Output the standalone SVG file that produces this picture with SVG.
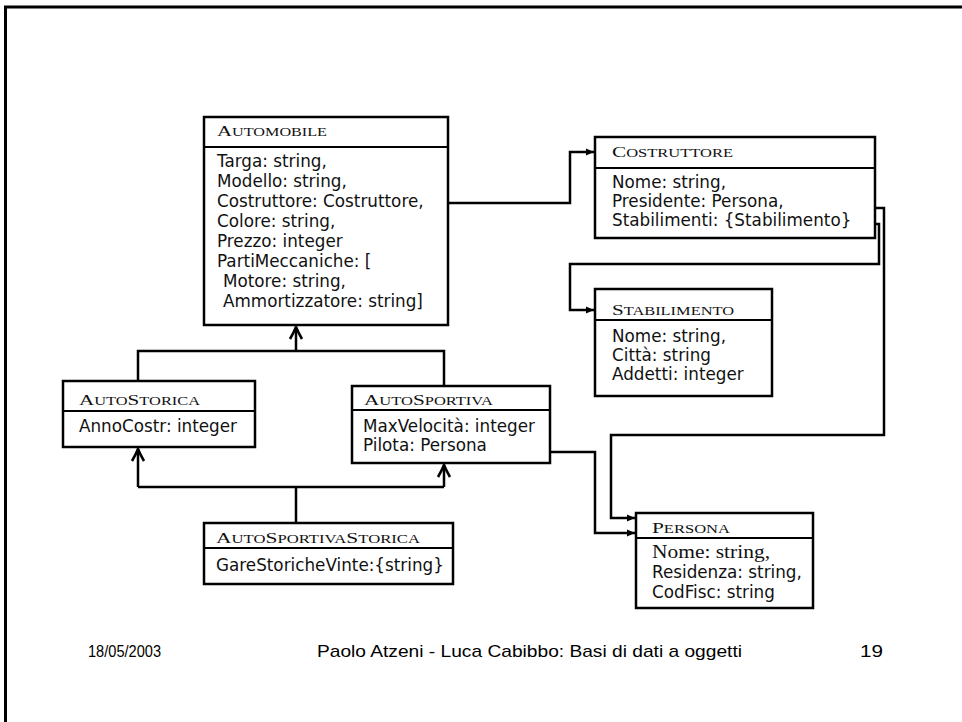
<svg xmlns="http://www.w3.org/2000/svg" width="962" height="722" viewBox="0 0 962 722">
<style>
.box{fill:#fff;stroke:#000;stroke-width:2.5}
.div{stroke:#000;stroke-width:2}
.t{font-family:"Liberation Serif","DejaVu Serif",serif;font-size:15.5px;fill:#111}
.sc{font-size:12px}
.b{font-family:"DejaVu Sans","Liberation Sans",sans-serif;font-size:16.8px;fill:#111}
.bs{font-family:"Liberation Serif","DejaVu Serif",serif;font-size:19px;fill:#111}
.c{fill:none;stroke:#000;stroke-width:2.5}
.f{font-family:"Liberation Sans",Arial,sans-serif;font-size:17px;fill:#000}
</style>
<defs>
<marker id="ah" markerUnits="userSpaceOnUse" markerWidth="12" markerHeight="12" refX="10" refY="6" orient="auto">
<path d="M2,2.5 L10,6 L2,9.5 Z" fill="#000"/>
</marker>
<marker id="ih" markerUnits="userSpaceOnUse" markerWidth="18" markerHeight="18" refX="15" refY="9" orient="auto" overflow="visible">
<path d="M3,3 Q10,7 15,9 Q10,11 3,15" fill="none" stroke="#000" stroke-width="2.6"/>
</marker>
</defs>
<rect width="962" height="722" fill="#fff"/>
<path d="M5.5,722 V7 H962" fill="none" stroke="#000" stroke-width="3"/>

<g id="connectors">
<path class="c" d="M437,203 H570 V152 H594" marker-end="url(#ah)"/>
<path class="c" d="M863,208 H884 V435 H611 V518 H635" marker-end="url(#ah)"/>
<path class="c" d="M863,224 H879 V264 H570 V310 H594" marker-end="url(#ah)"/>
<path class="c" d="M540,452 H595 V533 H635" marker-end="url(#ah)"/>
<path class="c" d="M296,351 V327" marker-end="url(#ih)"/>
<path class="c" d="M138,381 V351 H444 V386"/>
<path class="c" d="M296,523 V487"/>
<path class="c" d="M138,487 H444"/>
<path class="c" d="M138,487 V449" marker-end="url(#ih)"/>
<path class="c" d="M444,487 V465" marker-end="url(#ih)"/>
</g>

<g id="automobile">
<rect class="box" x="204" y="117" width="244" height="208"/>
<line class="div" x1="204" y1="147" x2="448" y2="147"/>
<text class="t" x="217" y="136" textLength="110" lengthAdjust="spacingAndGlyphs">A<tspan class="sc">UTOMOBILE</tspan></text>
<text class="b" x="217" y="167">Targa: string,</text>
<text class="b" x="217" y="187">Modello: string,</text>
<text class="b" x="217" y="207">Costruttore:  Costruttore,</text>
<text class="b" x="217" y="227">Colore: string,</text>
<text class="b" x="217" y="247">Prezzo: integer</text>
<text class="b" x="217" y="267">PartiMeccaniche: [</text>
<text class="b" x="223" y="287">Motore: string,</text>
<text class="b" x="223" y="307">Ammortizzatore: string]</text>
</g>

<g id="costruttore">
<rect class="box" x="595" y="137" width="280" height="101"/>
<line class="div" x1="595" y1="168" x2="875" y2="168"/>
<text class="t" x="612" y="157" textLength="121" lengthAdjust="spacingAndGlyphs">C<tspan class="sc">OSTRUTTORE</tspan></text>
<text class="b" x="612" y="188">Nome: string,</text>
<text class="b" x="612" y="207">Presidente:  Persona,</text>
<text class="b" x="612" y="226">Stabilimenti:  {Stabilimento}</text>
</g>

<g id="stabilimento">
<rect class="box" x="595" y="289" width="177" height="107"/>
<line class="div" x1="595" y1="320" x2="772" y2="320"/>
<text class="t" x="612" y="315" textLength="122" lengthAdjust="spacingAndGlyphs">S<tspan class="sc">TABILIMENTO</tspan></text>
<text class="b" x="612" y="342">Nome: string,</text>
<text class="b" x="612" y="361">Città: string</text>
<text class="b" x="612" y="380">Addetti: integer</text>
</g>

<g id="persona">
<rect class="box" x="636" y="513" width="177" height="95"/>
<line class="div" x1="636" y1="538" x2="813" y2="538"/>
<text class="t" x="652" y="533" textLength="78" lengthAdjust="spacingAndGlyphs">P<tspan class="sc">ERSONA</tspan></text>
<text class="bs" x="652" y="558" textLength="118" lengthAdjust="spacingAndGlyphs">Nome: string,</text>
<text class="b" x="652" y="578">Residenza: string,</text>
<text class="b" x="652" y="598">CodFisc: string</text>
</g>

<g id="autostorica">
<rect class="box" x="63" y="381" width="192" height="66"/>
<line class="div" x1="63" y1="411" x2="255" y2="411"/>
<text class="t" x="79" y="405" textLength="121" lengthAdjust="spacingAndGlyphs">A<tspan class="sc">UTO</tspan>S<tspan class="sc">TORICA</tspan></text>
<text class="b" x="79" y="432">AnnoCostr: integer</text>
</g>

<g id="autosportiva">
<rect class="box" x="352" y="386" width="198" height="77"/>
<line class="div" x1="352" y1="410" x2="550" y2="410"/>
<text class="t" x="364" y="405" textLength="129" lengthAdjust="spacingAndGlyphs">A<tspan class="sc">UTO</tspan>S<tspan class="sc">PORTIVA</tspan></text>
<text class="b" x="363" y="432">MaxVelocità: integer</text>
<text class="b" x="363" y="451">Pilota: Persona</text>
</g>

<g id="autosportivastorica">
<rect class="box" x="204" y="523" width="249" height="61"/>
<line class="div" x1="204" y1="548" x2="453" y2="548"/>
<text class="t" x="216" y="543" textLength="204" lengthAdjust="spacingAndGlyphs">A<tspan class="sc">UTO</tspan>S<tspan class="sc">PORTIVA</tspan>S<tspan class="sc">TORICA</tspan></text>
<text class="b" x="216" y="571">GareStoricheVinte:{string}</text>
</g>

<g id="footer">
<text class="f" x="88" y="657" textLength="73" lengthAdjust="spacingAndGlyphs">18/05/2003</text>
<text class="f" x="317" y="657" textLength="425" lengthAdjust="spacingAndGlyphs">Paolo Atzeni - Luca Cabibbo: Basi di dati a oggetti</text>
<text class="f" x="860" y="657" textLength="23" lengthAdjust="spacingAndGlyphs">19</text>
</g>
</svg>
